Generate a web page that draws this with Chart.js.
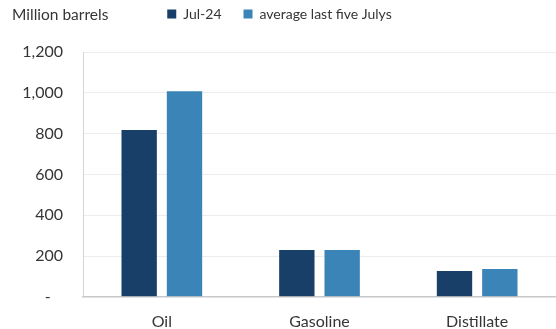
<!DOCTYPE html>
<html>
<head>
<meta charset="utf-8">
<script src="https://cdn.jsdelivr.net/npm/chart.js@4.4.1/dist/chart.umd.min.js"></script>
<style>
  html, body { margin: 0; padding: 0; background: #fff; }
  #wrap { width: 556px; height: 329px; }
</style>
</head>
<body>
<div id="wrap"><canvas id="stocks-chart"></canvas></div>
<script>
// Inventories by product, million barrels
var categories = ['Oil', 'Gasoline', 'Distillate'];
var jul24 = [818, 229, 126];
var avgFiveJulys = [1007, 229, 136];
var seriesNames = ['Jul-24', 'average last five Julys'];
var yTicks = [0, 200, 400, 600, 800, 1000, 1200];

var fontFamily = 'Lato, "Open Sans", sans-serif';
var textColor = '#353535';

// unit label in the legend row, top left; legend pulled up into that row
var unitLabel = {
    id: 'unitLabel',
    afterLayout: function (chart) {
        chart.legend.top -= 21;
        chart.legend.left += 3;
    },
    afterDraw: function (chart) {
        var ctx = chart.ctx;
        ctx.save();
        ctx.font = '15.5px ' + fontFamily;
        ctx.fillStyle = textColor;
        ctx.textBaseline = 'middle';
        ctx.textAlign = 'left';
        ctx.fillText('Million barrels', 12, 15);
        ctx.restore();
    }
};

var ctx = document.getElementById('stocks-chart');

var chartData = {
    labels: categories,
    datasets: [{
        label: seriesNames[0],
        data: jul24,
        backgroundColor: '#173f68',
        barPercentage: 0.78,
        categoryPercentage: 0.575
    }, {
        label: seriesNames[1],
        data: avgFiveJulys,
        backgroundColor: '#3b84b7',
        barPercentage: 0.78,
        categoryPercentage: 0.575
    }]
};

var chartOptions = {
    responsive: true,
    maintainAspectRatio: false,
    animation: false,
    layout: {
        padding: { left: 0, right: 0, top: 6, bottom: -17 }
    },
    plugins: {
        legend: {
            position: 'top',
            align: 'center',
            labels: {
                boxWidth: 9,
                boxHeight: 9,
                padding: 22,
                color: textColor,
                font: { family: fontFamily, size: 14 }
            }
        },
        tooltip: { enabled: false }
    },
    scales: {
        x: {
            grid: { display: false, drawTicks: false },
            border: { color: '#c8c8c8', width: 1.5 },
            ticks: {
                color: textColor,
                padding: 15,
                font: { family: fontFamily, size: 16 }
            }
        },
        y: {
            min: 0,
            max: 1200,
            afterBuildTicks: function (axis) {
                axis.ticks = yTicks.map(function (v) { return { value: v }; });
            },
            grid: { color: '#ececec', drawTicks: false },
            border: { color: '#d4d4d4' },
            afterFit: function (axis) { axis.width = 83; },
            ticks: {
                color: textColor,
                padding: 20,
                font: { family: fontFamily, size: 16 },
                callback: function (v) {
                    return v === 0 ? '-   ' : v.toLocaleString('en-US');
                }
            }
        }
    }
};

var barChart = new Chart(ctx, {
    type: 'bar',
    data: chartData,
    options: chartOptions,
    plugins: [unitLabel]
});
</script>
</body>
</html>
